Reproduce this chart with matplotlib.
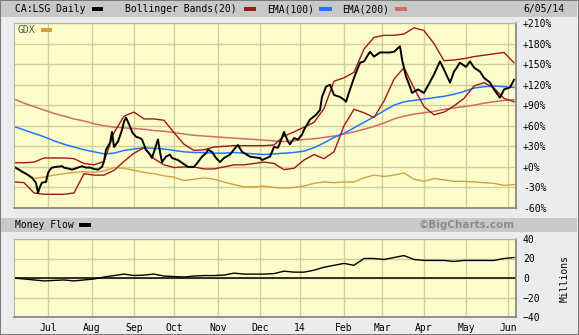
import numpy as np
import pandas as pd
import matplotlib
matplotlib.use('Agg')
import matplotlib.pyplot as plt
from matplotlib.patches import Rectangle

# TSX trading calendar for the window shown
holidays = ['2013-07-01', '2013-08-05', '2013-09-02', '2013-10-14', '2013-12-25',
            '2013-12-26', '2014-01-01', '2014-02-17', '2014-04-18', '2014-05-19']
days = pd.bdate_range('2013-06-06', '2014-06-05')
days = days[~days.isin(pd.to_datetime(holidays))]

# CA:LSG daily close, % change
price_dates = ['2013-06-06', '2013-06-10', '2013-06-12', '2013-06-14', '2013-06-17', '2013-06-19',
               '2013-06-21', '2013-06-24', '2013-06-25', '2013-06-26', '2013-06-28',
               '2013-07-02', '2013-07-03', '2013-07-04', '2013-07-08', '2013-07-11', '2013-07-12',
               '2013-07-17', '2013-07-18', '2013-07-23', '2013-07-25', '2013-07-29', '2013-07-31',
               '2013-08-02', '2013-08-07', '2013-08-09', '2013-08-12', '2013-08-13', '2013-08-15',
               '2013-08-16', '2013-08-19', '2013-08-21', '2013-08-23', '2013-08-26', '2013-08-27',
               '2013-08-29', '2013-08-30',
               '2013-09-04', '2013-09-06', '2013-09-09', '2013-09-11', '2013-09-13', '2013-09-16',
               '2013-09-19', '2013-09-20', '2013-09-23', '2013-09-25', '2013-09-27', '2013-09-30',
               '2013-10-03', '2013-10-07', '2013-10-10', '2013-10-16', '2013-10-18', '2013-10-22',
               '2013-10-24', '2013-10-25', '2013-10-29', '2013-10-31',
               '2013-11-04', '2013-11-06', '2013-11-11', '2013-11-14', '2013-11-15', '2013-11-19',
               '2013-11-25', '2013-11-27',
               '2013-12-02', '2013-12-03', '2013-12-09', '2013-12-11', '2013-12-13', '2013-12-16',
               '2013-12-18', '2013-12-20', '2013-12-23', '2013-12-27', '2013-12-31',
               '2014-01-03', '2014-01-06', '2014-01-09', '2014-01-14', '2014-01-16', '2014-01-17',
               '2014-01-21', '2014-01-23', '2014-01-27', '2014-01-30',
               '2014-02-03', '2014-02-04', '2014-02-06', '2014-02-10', '2014-02-13', '2014-02-18',
               '2014-02-21', '2014-02-25', '2014-02-28',
               '2014-03-04', '2014-03-07', '2014-03-11', '2014-03-14', '2014-03-17', '2014-03-19',
               '2014-03-21', '2014-03-24', '2014-03-27',
               '2014-04-01', '2014-04-04', '2014-04-08', '2014-04-11', '2014-04-15', '2014-04-21',
               '2014-04-23', '2014-04-28',
               '2014-05-01', '2014-05-05', '2014-05-07', '2014-05-12', '2014-05-14', '2014-05-20',
               '2014-05-22', '2014-05-27', '2014-05-29',
               '2014-06-03', '2014-06-05']
price = [0, -3, -7, -10, -12, -16, -23, -38, -29, -23, -22,
         -9, -4, -1, 0, 1, -1, -3, -4, -1, 1, -1, -1,
         -3, -4, 0, 8, 25, 35, 51, 29, 37, 54, 66, 72, 59, 51,
         44, 42, 40, 25, 18, 13, 40, 22, 7, 15, 18, 13,
         10, 6, 0, 0, 7, 15, 20, 25, 22, 13,
         7, 13, 18, 29, 32, 22, 15, 14,
         13, 10, 15, 29, 28, 35, 51, 37, 33, 42, 40,
         47, 54, 69, 76, 83, 102, 117, 120, 105, 102,
         98, 95, 113, 130, 152, 154, 168, 161, 167,
         167, 167, 168, 176, 157, 132, 117, 108, 113,
         108, 124, 135, 154, 142, 123, 139, 152,
         146, 154, 145, 139, 130, 123, 113, 101, 113,
         116, 127]

# weekly samples for the smoother series
wk_dates = ['2013-06-06', '2013-06-13', '2013-06-20', '2013-06-27', '2013-07-05', '2013-07-12',
            '2013-07-19', '2013-07-26', '2013-08-02', '2013-08-12', '2013-08-19', '2013-08-26',
            '2013-09-03', '2013-09-10', '2013-09-17', '2013-09-24', '2013-10-01', '2013-10-08',
            '2013-10-16', '2013-10-23', '2013-10-30', '2013-11-06', '2013-11-13', '2013-11-20',
            '2013-11-27', '2013-12-04', '2013-12-11', '2013-12-18', '2013-12-27', '2014-01-06',
            '2014-01-13', '2014-01-20', '2014-01-27', '2014-02-03', '2014-02-10', '2014-02-18',
            '2014-02-25', '2014-03-04', '2014-03-11', '2014-03-18', '2014-03-25', '2014-04-01',
            '2014-04-08', '2014-04-15', '2014-04-23', '2014-04-30', '2014-05-07', '2014-05-14',
            '2014-05-22', '2014-05-29', '2014-06-05']
ema100 = [59, 54, 49, 44, 38, 33, 29, 25, 22, 19, 20, 24, 26, 28, 27, 26, 24, 22, 21, 21,
          20, 20, 21, 20, 19, 18, 19, 20, 21, 23, 28, 35, 43, 49, 57, 65, 73, 82, 90, 95,
          97, 99, 101, 103, 106, 110, 115, 117, 118, 117, 116]
ema200 = [99, 93, 88, 83, 78, 74, 70, 67, 63, 60, 58, 57, 56, 55, 53, 52, 50, 48, 46, 45,
          44, 43, 42, 41, 40, 39, 38, 37, 38, 40, 41, 43, 45, 48, 51, 55, 59, 64, 70, 74,
          77, 79, 81, 84, 86, 88, 90, 93, 95, 97, 98]
bb_upper = [6, 6, 7, 13, 13, 13, 12, 5, 3, 8, 50, 74, 80, 70, 70, 68, 50, 33, 24, 25,
            29, 30, 31, 31, 31, 31, 32, 45, 51, 58, 65, 85, 125, 130, 138, 172, 189, 192, 192, 194,
            203, 199, 180, 155, 156, 158, 161, 163, 165, 167, 152]
bb_lower = [-22, -23, -38, -40, -40, -40, -38, -10, -12, -12, -5, 8, 20, 28, 12, 3, -1, 0, 0, -3,
            -3, 0, 3, 3, 5, 7, 5, -4, -2, 10, 18, 12, 22, 60, 84, 79, 72, 96, 128, 145,
            115, 88, 76, 80, 89, 100, 118, 123, 115, 100, 95]
gdx = [-1, -8, -17, -15, -12, -10, -8, -7, -8, -6, -1, -2, -5, -8, -10, -13, -15, -20, -18, -16,
       -18, -22, -26, -29, -29, -28, -30, -31, -30, -28, -24, -22, -23, -22, -22, -16, -12, -14, -12, -9,
       -18, -21, -17, -19, -21, -21, -22, -23, -24, -27, -26]
money_flow = [0, -1, -2, -3, -2.5, -2, -3, -2, -1, 1, 2.5, 4, 2.5, 3, 4, 2, 1.5, 1, 2, 2.5,
              2.5, 3, 5, 4, 4, 4, 4.5, 7, 6, 6, 8, 11, 13, 15, 13, 20, 20, 19, 21, 23,
              19, 18, 18, 18, 17, 18, 18, 18, 18, 20, 21]

month_labels = ['Jul', 'Aug', 'Sep', 'Oct', 'Nov', 'Dec', '14', 'Feb', 'Mar', 'Apr', 'May', 'Jun']
pct_ticks = [-60, -30, 0, 30, 60, 90, 120, 150, 180, 210]
mf_ticks = [-40, -20, 0, 20, 40]


def tidx(dates):
    return np.searchsorted(days.values, pd.to_datetime(dates).values)


W, H = 579, 335
MONO = 'DejaVu Sans Mono'
BG = '#fdfdcc'
GRID = '#d3cf94'


def fx(x):
    return x / W


def fy(y):
    return 1 - y / H


fig = plt.figure(figsize=(W / 100, H / 100), dpi=100, facecolor='#ececec')

# frame and header bars
fig.add_artist(Rectangle((0, 0), 1, 1, transform=fig.transFigure, fill=False,
                         edgecolor='#7a7a7a', lw=1.5))
fig.add_artist(Rectangle((fx(1), fy(17)), fx(576), 16 / H, transform=fig.transFigure,
                         facecolor='#c8c8c8', edgecolor='none'))
fig.add_artist(Rectangle((fx(1), fy(232)), fx(576), 14 / H, transform=fig.transFigure,
                         facecolor='#c8c8c8', edgecolor='none'))


def swatch(x0, x1, yc, color):
    fig.add_artist(Rectangle((fx(x0), fy(yc + 2)), (x1 - x0) / W, 4 / H,
                             transform=fig.transFigure, facecolor=color, edgecolor='none'))


def label(x, y, s, **kw):
    fig.text(fx(x), fy(y), s, va='center', family=MONO, fontsize=7, **kw)


label(15, 9, 'CA:LSG Daily')
swatch(92, 103, 9, 'black')
label(125, 9, 'Bollinger Bands(20)')
swatch(244, 256, 9, '#a01818')
label(267, 9, 'EMA(100)')
swatch(319, 332, 9, '#1e78ff')
label(342, 9, 'EMA(200)')
swatch(395, 407, 9, '#d46a6a')
label(565, 9, '6/05/14', ha='right')

label(15, 225, 'Money Flow')
swatch(79, 91, 225, 'black')
fig.text(fx(515), fy(225), '\u00a9BigCharts.com', ha='right', va='center',
         fontsize=7.5, fontweight='bold', color='#8c8c8c', family='DejaVu Sans')

ax1 = fig.add_axes([fx(14), fy(208), 502 / W, 185 / H])
ax2 = fig.add_axes([fx(14), fy(317), 502 / W, 78 / H])

month_pos = [np.argmax((days.month == m) & (days.year == y))
             for y, m in [(2013, 7), (2013, 8), (2013, 9), (2013, 10), (2013, 11), (2013, 12),
                          (2014, 1), (2014, 2), (2014, 3), (2014, 4), (2014, 5), (2014, 6)]]

for ax in (ax1, ax2):
    ax.set_facecolor(BG)
    ax.set_xlim(0, len(days))
    ax.set_xticks(month_pos)
    ax.grid(True, color=GRID, lw=1)
    ax.set_axisbelow(True)
    ax.yaxis.tick_right()
    ax.tick_params(length=0, labelsize=7, pad=5)
    for lab in ax.get_xticklabels() + ax.get_yticklabels():
        lab.set_family(MONO)
    for side in ['left', 'top']:
        ax.spines[side].set_color('#b8b8a0')
    for side in ['right', 'bottom']:
        ax.spines[side].set_color('#808080')
        ax.spines[side].set_linewidth(1.2)

wx = tidx(wk_dates)
ax1.plot(wx, gdx, color='#d4a040', lw=1)
ax1.plot(wx, ema200, color='#d46a6a', lw=1.1)
ax1.plot(wx, ema100, color='#1e78ff', lw=1.1)
ax1.plot(wx, bb_upper, color='#a01818', lw=1)
ax1.plot(wx, bb_lower, color='#a01818', lw=1)
ax1.plot(tidx(price_dates), price, color='black', lw=1.4)
ax1.set_ylim(-60, 210)
ax1.set_yticks(pct_ticks)
ax1.set_yticklabels([('%+d%%' % v) for v in pct_ticks], family=MONO)
ax1.set_xticklabels([])
ax1.text(4 / 502, 1 - 7 / 185, 'GDX', transform=ax1.transAxes, va='center',
         family=MONO, fontsize=7, color='#555555')
ax1.add_patch(Rectangle((27 / 502, 1 - 9 / 185), 11 / 502, 3.5 / 185,
                        transform=ax1.transAxes, facecolor='#d4a040', edgecolor='none'))

ax2.plot(wx, money_flow, color='black', lw=1)
ax2.axhline(0, color='black', lw=1.1)
ax2.set_ylim(-40, 40)
ax2.set_yticks(mf_ticks)
ax2.set_xticklabels(month_labels, family=MONO)
ax2.tick_params(axis='x', pad=4)
label(565, 278, 'Millions', ha='center', rotation=90)

fig.savefig('out.png', dpi=100, facecolor=fig.get_facecolor())
